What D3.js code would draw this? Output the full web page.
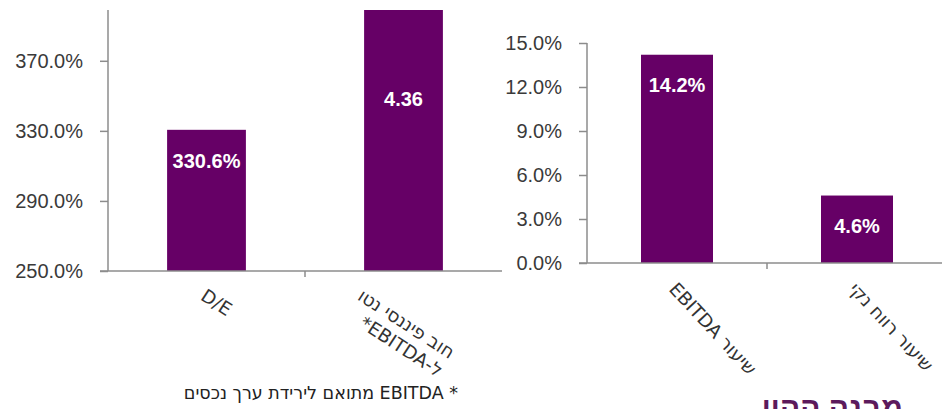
<!DOCTYPE html>
<html lang="he">
  <head>
    <meta charset="UTF-8" />
    <title>Chart</title>
    <script src="https://d3js.org/d3.v7.min.js"></script>
    <style>
      body { margin: 0; background: #fff; }
      text { font-family: "Liberation Sans", Arial, sans-serif; }
    </style>
  </head>
  <body>
    <svg width="942" height="409"></svg>
    <script>
      // left chart: leverage
      let leftCats = ["D/E", "חוב פיננסי נטו|ל-EBITDA*"];
      let leftValues = [330.6, 436];
      let leftLabels = ["330.6%", "4.36"];
      let leftLabelAt = [309, 344];
      let leftTicks = [250, 290, 330, 370];

      // right chart: margins
      let rightCats = ["שיעור EBITDA", "שיעור רווח נקי"];
      let rightValues = [14.2, 4.6];
      let rightLabels = ["14.2%", "4.6%"];
      let rightTicks = [0, 3, 6, 9, 12, 15];

      let footnote = "*  EBITDA מתואם לירידת ערך נכסים";
      let title = "מבנה ההון";

      let purple = "#660066";
      let axisColor = "#8c8c8c";
      let svg = d3.select("svg");

      function drawChart(opt) {
        let g = svg.append("g");
        let x = d3.scaleBand().domain(opt.cats).range(opt.xRange)
          .paddingInner(0.6).paddingOuter(0.3);
        let y = d3.scaleLinear().domain(opt.yDomain).range(opt.yRange).clamp(true);
        let x0 = opt.xRange[0], base = opt.yRange[0];

        // bars
        g.selectAll("rect")
          .data(opt.values)
          .enter()
          .append("rect")
          .attr("x", (d, i) => x(opt.cats[i]))
          .attr("width", x.bandwidth())
          .attr("y", (d) => y(d))
          .attr("height", (d) => base - y(d))
          .attr("fill", purple);

        // y axis
        let yAxis = g.append("g")
          .attr("transform", "translate(" + x0 + ",0)")
          .call(d3.axisLeft(y).tickValues(opt.ticks).tickSize(8).tickPadding(17)
            .tickFormat((d) => d.toFixed(1) + "%"));
        yAxis.select(".domain").attr("stroke", axisColor).attr("stroke-width", 1.5)
          .attr("d", "M0," + base + "V" + opt.yRange[1]);
        yAxis.selectAll(".tick line").attr("stroke", axisColor).attr("stroke-width", 1.5);
        yAxis.selectAll(".tick text").attr("fill", "#3a3a3a")
          .style("font-size", "20px");

        // x axis line + tick between categories
        g.append("line")
          .attr("x1", x0 - 8).attr("x2", opt.xRange[1])
          .attr("y1", base).attr("y2", base)
          .attr("stroke", axisColor).attr("stroke-width", 1.5);
        g.append("line")
          .attr("x1", x0 + x.step()).attr("x2", x0 + x.step())
          .attr("y1", base).attr("y2", base + 6)
          .attr("stroke", axisColor).attr("stroke-width", 1.5);

        // value labels
        g.selectAll(".val")
          .data(opt.labels)
          .enter()
          .append("text")
          .attr("class", "val")
          .attr("x", (d, i) => x(opt.cats[i]) + x.bandwidth() / 2)
          .attr("y", (d, i) => opt.labelAt ? y(opt.labelAt[i]) : y(opt.values[i]) + 37)
          .attr("text-anchor", "middle")
          .attr("fill", "#fff")
          .style("font-size", "20px")
          .style("font-weight", "bold")
          .text((d) => d);

        // rotated category labels
        opt.cats.forEach((c, i) => {
          let lines = c.split("|");
          let cx = x(c) + x.bandwidth() / 2;
          let lg = g.append("g")
            .attr("transform", "translate(" + (cx + opt.labelDx - (lines.length - 1) * 40) + "," +
              (base + opt.labelDy) + ") rotate(" + opt.angle + ")");
          let t = lg.append("text")
            .attr("direction", "rtl")
            .style("direction", "rtl")
            .attr("fill", "#333")
            .style("font-family", "'DejaVu Sans', sans-serif")
            .style("font-size", "18.5px");
          lines.forEach((l, j) => {
            t.append("tspan").attr("x", 0).attr("y", j * 22).text(l);
          });
          // right-align lines (rtl), block's visual left edge at local x = 0
          let maxL = d3.max(t.selectAll("tspan").nodes(), (n) => n.getComputedTextLength());
          t.selectAll("tspan").attr("x", maxL).attr("text-anchor", "start");
        });
      }

      drawChart({
        cats: leftCats, values: leftValues, labels: leftLabels, labelAt: leftLabelAt,
        ticks: leftTicks, xRange: [108, 502], yDomain: [250, 399], yRange: [271, 10],
        angle: 33, labelDx: -7, labelDy: 28
      });
      drawChart({
        cats: rightCats, values: rightValues, labels: rightLabels,
        ticks: rightTicks, xRange: [587, 947], yDomain: [0, 15], yRange: [263, 43],
        angle: 47, labelDx: -9, labelDy: 27
      });

      // footnote
      svg.append("text")
        .attr("x", 458).attr("y", 399)
        .attr("direction", "rtl").style("direction", "rtl")
        .attr("text-anchor", "start")
        .attr("fill", "#222")
        .style("font-family", "'DejaVu Sans', sans-serif")
        .style("font-size", "17.5px")
        .text(footnote);

      // title cut at the bottom edge
      svg.append("text")
        .attr("x", 903).attr("y", 418)
        .attr("direction", "rtl").style("direction", "rtl")
        .attr("text-anchor", "start")
        .attr("fill", "#5c1a5c")
        .style("font-size", "30px")
        .style("font-weight", "bold")
        .text(title);
    </script>
  </body>
</html>
